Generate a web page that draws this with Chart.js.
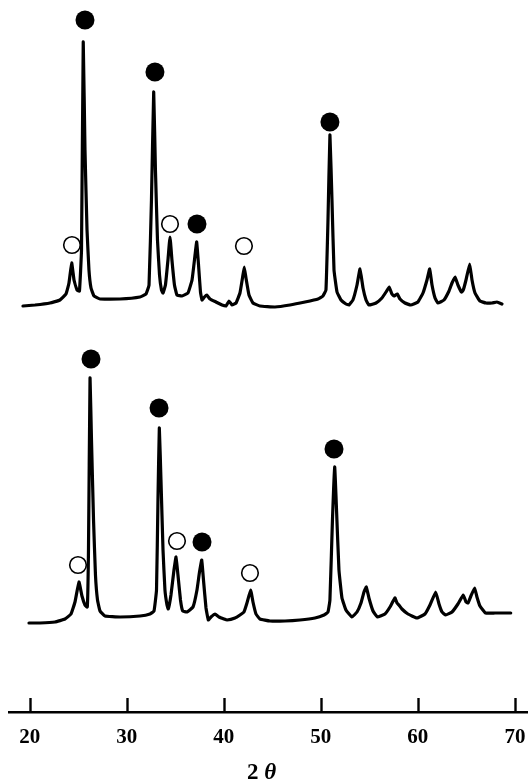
<!DOCTYPE html>
<html><head><meta charset="utf-8">
<script src="https://cdn.jsdelivr.net/npm/chart.js@4.4.1/dist/chart.umd.min.js"></script>
<style>html,body{margin:0;padding:0;background:#fff;}canvas{display:block;}</style>
</head><body>
<canvas id="c" width="528" height="783"></canvas>
<script>
// ---- data (2θ in degrees, intensity in arbitrary units) ----
const tickValues = [20, 30, 40, 50, 60, 70];
const axisTitleParts = ['2 ', 'θ'];

const topTwoTheta = [19.31,20.55,22.09,23.12,23.74,24.05,24.33,24.57,24.88,25.13,25.34,25.52,25.70,25.91,26.11,26.32,26.63,27.25,29.31,31.37,31.99,32.30,32.55,32.78,32.96,33.17,33.38,33.58,33.74,33.99,34.25,34.46,34.66,34.92,35.18,35.69,36.31,36.73,37.04,37.21,37.40,37.60,37.76,38.01,38.24,38.58,39.20,39.82,40.23,40.54,40.85,41.26,41.67,41.93,42.11,42.29,42.60,43.01,43.73,45.28,46.82,48.37,49.71,50.22,50.53,50.74,50.94,51.15,51.36,51.67,52.08,52.59,52.90,53.31,53.73,54.04,54.35,54.66,54.96,55.69,56.30,56.72,57.04,57.33,57.54,57.88,58.16,58.67,59.26,60.01,60.53,60.94,61.22,61.46,61.77,62.07,62.69,63.21,63.52,63.83,64.13,64.50,64.68,64.96,65.34,65.58,65.89,66.40,67.02,67.64,68.15,68.67];
const topIntensity = [6,7,9,12,18,29,49,32,22,21,62,270,162,82,42,24,16,13,13,15,18,27,112,220,142,72,37,22,19,27,52,75,52,27,17,16,19,32,57,70,47,20,12,15,17,13,10,7,6,11,7,9,19,34,45,34,17,9,6,5,7,10,13,16,22,92,177,112,42,20,12,8,7,12,27,43,24,12,7,9,14,20,25,18,16,18,13,9,7,10,19,32,43,27,14,9,12,21,29,35,27,20,22,32,48,32,19,11,9,9,10,8];

const bottomTwoTheta = [19.93,21.06,22.61,23.64,24.26,24.67,25.08,25.39,25.70,25.94,26.06,26.22,26.37,26.58,26.78,26.99,27.25,27.76,29.31,31.37,32.40,32.81,33.07,33.22,33.36,33.53,33.74,33.94,34.15,34.28,34.56,34.87,35.08,35.28,35.54,35.77,36.21,36.83,37.24,37.50,37.73,37.91,38.17,38.41,38.68,39.10,39.51,40.02,40.33,41.16,41.67,42.08,42.39,42.77,43.01,43.32,43.73,44.76,46.31,47.85,49.40,50.33,50.74,50.94,51.20,51.43,51.62,51.87,52.18,52.59,53.21,53.73,54.14,54.45,54.69,54.96,55.38,55.82,56.61,57.13,57.64,57.85,58.05,58.36,58.98,59.91,60.73,61.25,61.84,62.18,62.49,62.87,63.52,64.13,64.68,64.96,65.17,65.47,65.85,66.09,66.40,66.99,67.95,68.77,69.57];
const bottomIntensity = [4,4,5,8,13,25,45,31,22,20,77,249,187,107,52,27,16,11,10,11,13,16,37,127,199,147,77,37,22,18,32,57,70,52,27,16,15,20,37,55,67,47,19,7,10,13,10,8,7,9,12,15,24,37,25,13,8,6,6,7,9,12,15,27,107,160,117,57,29,17,10,15,24,35,40,29,16,10,13,20,29,24,22,18,13,9,13,22,35,23,15,12,15,23,32,25,24,31,39,30,21,14,14,14,14];

// phase markers (● filled, ○ open): 2θ and marker height
const topFilledX = [25.70, 32.91, 37.24, 50.94];
const topFilledY = [292, 240, 88, 190];
const topOpenX = [24.36, 34.46, 42.08];
const topOpenY = [67, 88, 66];
const bottomFilledX = [26.32, 33.33, 37.76, 51.36];
const bottomFilledY = [268, 219, 85, 178];
const bottomOpenX = [24.98, 35.18, 42.70];
const bottomOpenY = [62, 86, 54];

// ---- layout constants ----
const TOP_OFFSET = 400, BOTTOM_OFFSET = 85;

const pts = (xs, ys, off) => xs.map((x, i) => ({x: x, y: ys[i] + off}));

const traceStyle = {
  borderColor: '#000', borderWidth: 3.2, pointRadius: 0, fill: false,
  tension: 0.1, borderJoinStyle: 'round', borderCapStyle: 'round'
};
const filledStyle = {showLine: false, pointRadius: 9.5, pointBackgroundColor: '#000', pointBorderColor: '#000', pointBorderWidth: 0};
const openStyle = {showLine: false, pointRadius: 8.3, pointBackgroundColor: '#fff', pointBorderColor: '#000', pointBorderWidth: 1.6};

const inwardTicks = {
  id: 'inwardTicks',
  afterDraw(chart) {
    const {ctx, chartArea, scales: {x}} = chart;
    ctx.save();
    ctx.strokeStyle = '#000';
    ctx.lineWidth = 2.4;
    tickValues.forEach(v => {
      const px = Math.round(x.getPixelForValue(v)) + 0.5;
      ctx.beginPath();
      ctx.moveTo(px, chartArea.bottom);
      ctx.lineTo(px, chartArea.bottom - 14);
      ctx.stroke();
    });
    // axis title "2 θ" (θ italic)
    ctx.fillStyle = '#000';
    ctx.textBaseline = 'alphabetic';
    const f1 = 'bold 23px "Liberation Serif"';
    const f2 = 'italic bold 23px "Liberation Serif"';
    ctx.font = f1; const w1 = ctx.measureText(axisTitleParts[0]).width;
    ctx.font = f2; const w2 = ctx.measureText(axisTitleParts[1]).width;
    const cx = (chartArea.left + chartArea.right) / 2 - 7;
    const start = cx - (w1 + w2) / 2;
    const by = chartArea.bottom + 67;
    ctx.font = f1; ctx.fillText(axisTitleParts[0], start, by);
    ctx.font = f2; ctx.fillText(axisTitleParts[1], start + w1, by);
    ctx.restore();
  }
};

new Chart(document.getElementById('c'), {
  type: 'line',
  data: {
    datasets: [
      Object.assign({label: 'top', data: pts(topTwoTheta, topIntensity, TOP_OFFSET)}, traceStyle),
      Object.assign({label: 'bottom', data: pts(bottomTwoTheta, bottomIntensity, BOTTOM_OFFSET)}, traceStyle),
      Object.assign({label: 'top filled', data: pts(topFilledX, topFilledY, TOP_OFFSET)}, filledStyle),
      Object.assign({label: 'top open', data: pts(topOpenX, topOpenY, TOP_OFFSET)}, openStyle),
      Object.assign({label: 'bottom filled', data: pts(bottomFilledX, bottomFilledY, BOTTOM_OFFSET)}, filledStyle),
      Object.assign({label: 'bottom open', data: pts(bottomOpenX, bottomOpenY, BOTTOM_OFFSET)}, openStyle)
    ]
  },
  options: {
    responsive: false,
    animation: false,
    devicePixelRatio: 1,
    layout: {autoPadding: false, padding: {left: 9, right: 0, top: 0, bottom: 0}},
    plugins: {legend: {display: false}, tooltip: {enabled: false}},
    scales: {
      x: {
        type: 'linear',
        min: 17.87, max: 71.35,
        afterBuildTicks: s => { s.ticks = tickValues.map(v => ({value: v})); },
        afterFit: s => { s.height = 71; s.paddingLeft = 0; s.paddingRight = 0; },
        grid: {display: false, drawTicks: false},
        border: {display: true, color: '#000', width: 2.6},
        ticks: {color: '#000', padding: 13, font: {family: 'Liberation Serif', weight: 'bold', size: 21}, maxRotation: 0, autoSkip: false}
      },
      y: {type: 'linear', min: 0, max: 712, display: false}
    }
  },
  plugins: [inwardTicks]
});
</script>
</body></html>
